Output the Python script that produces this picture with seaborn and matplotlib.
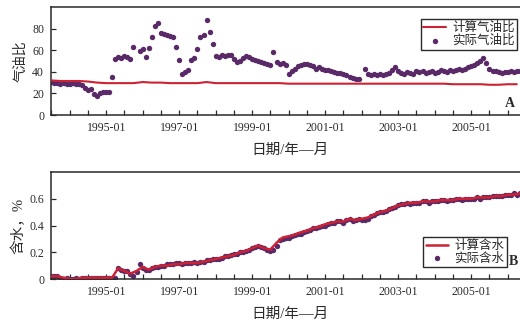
import numpy as np
import pandas as pd
import matplotlib
matplotlib.use("Agg")
import matplotlib.pyplot as plt
import matplotlib.dates as mdates
import seaborn as sns

# ---- data -------------------------------------------------------------
# monthly observations, 1993-07 .. 2006-06
months = pd.date_range("1993-07-01", periods=156, freq="MS")

gor_actual = [
    31, 30, 30, 29, 30, 29,                                   # 1993 H2
    29, 30, 29, 29, 28, 25, 23, 24, 19, 18, 20, 21,           # 1994
    21, 21, 35, 52, 54, 53, 55, 54, 52, 63, np.nan, 59,       # 1995
    61, 54, 62, 72, 82, 85, 76, 75, 74, 73, 72, 63,           # 1996
    51, 38, 40, 42, 51, 53, 61, 72, 74, 88, 77, 66,           # 1997
    55, 54, 56, 55, 56, 56, 52, 49, 50, 53, 55, 54,           # 1998
    52, 51, 50, 49, 48, 47, 46, 58, 49, 47, 48, 46,           # 1999
    38, 41, 43, 45, 46, 47, 47, 46, 45, 43, 44, 43,           # 2000
    42, 42, 41, 40, 39, 39, 38, 37, 35, 34, 33, 33,           # 2001
    np.nan, 43, 38, 37, 38, 37, 38, 37, 38, 39, 42, 44,       # 2002
    41, 39, 38, 40, 39, 38, 41, 40, 41, 39, 40, 41,           # 2003
    39, 40, 42, 41, 40, 42, 41, 42, 43, 42, 43, 44,           # 2004
    45, 46, 48, 50, 53, 48, 43, 41, 41, 40, 39, 40,           # 2005
    40, 41, 40, 41, 41, 40,                                   # 2006 H1
]

# model gas-oil ratio, quarterly
quarters = pd.date_range("1993-07-01", periods=52, freq="3MS")
gor_calc = [
    32, 31.5, 31.5, 31.5, 31, 30,
    29.5, 29.5, 29.5, 29.5, 30.5, 30, 30, 29.5, 29.5, 29.5, 29.5, 30.5,
    29.5, 29.5, 29.5, 29.5, 29.5, 29.5, 29.5, 29.5, 29, 29, 29, 29,
    29, 29, 29, 29, 29, 29, 29, 29, 29, 29, 29, 29,
    29, 29, 28.5, 28.5, 28.5, 28.5, 28, 28, 28.5, 28.5,
]

wc_actual = [
    0.02, 0.02, 0.02, 0.01, 0.00, 0.01,
    0.00, 0.00, 0.01, 0.00, 0.01, 0.01, 0.01, 0.01, 0.01, 0.01, 0.01, 0.01,
    0.01, 0.01, 0.01, 0.01, 0.08, 0.07, 0.06, 0.06, 0.04, 0.02, 0.05, 0.11,
    0.08, 0.07, 0.07, 0.08, 0.09, 0.09, 0.10, 0.10, 0.11, 0.11, 0.11, 0.12,
    0.12, 0.11, 0.12, 0.12, 0.12, 0.13, 0.12, 0.13, 0.13, 0.14, 0.14, 0.15,
    0.15, 0.15, 0.16, 0.17, 0.17, 0.18, 0.19, 0.19, 0.20, 0.20, 0.21, 0.22,
    0.23, 0.24, 0.25, 0.24, 0.23, 0.22, 0.21, 0.22, 0.25, 0.29, 0.30, 0.31,
    0.31, 0.32, 0.33, 0.34, 0.34, 0.35, 0.36, 0.37, 0.38, 0.38, 0.39, 0.40,
    0.40, 0.41, 0.42, 0.42, 0.43, 0.43, 0.42, 0.44, 0.45, 0.43, 0.44, 0.45,
    0.44, 0.44, 0.45, 0.47, 0.48, 0.49, 0.50, 0.50, 0.51, 0.52, 0.53, 0.54,
    0.55, 0.56, 0.56, 0.57, 0.56, 0.57, 0.57, 0.57, 0.58, 0.58, 0.57, 0.58,
    0.58, 0.58, 0.59, 0.59, 0.58, 0.59, 0.59, 0.60, 0.60, 0.59, 0.60, 0.60,
    0.60, 0.60, 0.61, 0.60, 0.61, 0.61, 0.61, 0.62, 0.62, 0.62, 0.62, 0.63,
    0.63, 0.63, 0.64, 0.63, 0.64, 0.64,
]

# model water cut, bi-monthly
bimonths = pd.date_range("1993-07-01", periods=78, freq="2MS")
wc_calc = [
    0.02, 0.02, 0.01, 0.00, 0.00, 0.01, 0.01, 0.01, 0.01, 0.01,
    0.01, 0.08, 0.06, 0.04, 0.06, 0.09, 0.07, 0.09, 0.10, 0.10,
    0.11, 0.11, 0.12, 0.12, 0.12, 0.13, 0.14, 0.15, 0.16, 0.17,
    0.18, 0.20, 0.21, 0.23, 0.25, 0.23, 0.22, 0.27, 0.31, 0.32,
    0.33, 0.35, 0.36, 0.38, 0.39, 0.41, 0.42, 0.43, 0.43, 0.45,
    0.44, 0.45, 0.46, 0.48, 0.50, 0.51, 0.53, 0.55, 0.56, 0.57,
    0.57, 0.58, 0.58, 0.58, 0.59, 0.59, 0.59, 0.60, 0.60, 0.60,
    0.61, 0.61, 0.61, 0.62, 0.62, 0.63, 0.63, 0.64,
]

tick_dates = pd.to_datetime(["1995-01-01", "1997-01-01", "1999-01-01",
                             "2001-01-01", "2003-01-01", "2005-01-01"])
tick_labels = ["1995-01", "1997-01", "1999-01", "2001-01", "2003-01", "2005-01"]

gor_obs = pd.DataFrame({"date": months, "value": gor_actual})
gor_mod = pd.DataFrame({"date": quarters, "value": gor_calc})
wc_obs = pd.DataFrame({"date": months, "value": wc_actual})
wc_mod = pd.DataFrame({"date": bimonths, "value": wc_calc})

# ---- style ------------------------------------------------------------
sns.set_theme(style="ticks")
plt.rcParams["font.family"] = ["Liberation Serif", "Noto Sans CJK SC"]
plt.rcParams["axes.unicode_minus"] = False

RED = "#cc2233"
PURPLE = "#5a2a68"
INK = "#2a2a2a"

fig = plt.figure(figsize=(5.2, 3.27), dpi=100)
W, H = 520, 327
x0, x1 = 51, 529
ax_top = fig.add_axes([x0 / W, 1 - 115 / H, (x1 - x0) / W, 108 / H])
ax_bot = fig.add_axes([x0 / W, 1 - 279 / H, (x1 - x0) / W, 107 / H])

xmin = pd.Timestamp("1993-06-28")
xmax = pd.Timestamp("2006-08-01")


def style_axis(ax):
    ax.set_xlim(xmin, xmax)
    ax.set_xticks(tick_dates, tick_labels)
    ax.xaxis.set_minor_locator(mdates.MonthLocator(bymonth=(1, 7)))
    ax.tick_params(axis="both", which="both", direction="in", length=3.5,
                   width=0.9, color=INK, labelsize=8.5, labelcolor=INK, pad=5)
    for s in ax.spines.values():
        s.set_color(INK)
        s.set_linewidth(1.1)
    ax.set_xlabel("日期/年—月", fontsize=10.5, color=INK, labelpad=7)


# ---- A: gas-oil ratio ---------------------------------------------------
sns.scatterplot(data=gor_obs, x="date", y="value", ax=ax_top, color=PURPLE,
                s=15, linewidth=0, label="实际气油比", zorder=2)
sns.lineplot(data=gor_mod, x="date", y="value", ax=ax_top, color=RED,
             linewidth=1.5, label="计算气油比", zorder=3)
ax_top.set_ylim(0, 100)
ax_top.set_yticks([0, 20, 40, 60, 80])
ax_top.set_ylabel("气油比", fontsize=10, color=INK, labelpad=3)
style_axis(ax_top)
h, l = ax_top.get_legend_handles_labels()
ax_top.legend(h[::-1], l[::-1], loc="upper right", bbox_to_anchor=(0.975, 0.885),
              fontsize=9, frameon=True, fancybox=False, edgecolor=INK,
              framealpha=1, borderpad=0.2, labelspacing=0.05, handlelength=1.8,
              handletextpad=0.5, borderaxespad=0)
ax_top.text(0.96, 0.11, "A", transform=ax_top.transAxes, fontsize=10,
            fontweight="bold", color=INK, ha="center", va="center")

# ---- B: water cut -------------------------------------------------------
sns.scatterplot(data=wc_obs, x="date", y="value", ax=ax_bot, color=PURPLE,
                s=15, linewidth=0, label="实际含水", zorder=2)
sns.lineplot(data=wc_mod, x="date", y="value", ax=ax_bot, color=RED,
             linewidth=1.8, label="计算含水", zorder=3)
ax_bot.set_ylim(0, 0.8)
ax_bot.set_yticks([0, 0.2, 0.4, 0.6], ["0", "0.2", "0.4", "0.6"])
ax_bot.set_ylabel("含水，%", fontsize=10.5, color=INK, labelpad=3)
style_axis(ax_bot)
h, l = ax_bot.get_legend_handles_labels()
ax_bot.legend(h[::-1], l[::-1], loc="lower right", bbox_to_anchor=(0.954, 0.11),
              fontsize=9, frameon=True, fancybox=False, edgecolor=INK,
              framealpha=1, borderpad=0.2, labelspacing=0.05, handlelength=1.8,
              handletextpad=0.5, borderaxespad=0)
ax_bot.text(0.967, 0.16, "B", transform=ax_bot.transAxes, fontsize=10,
            fontweight="bold", color=INK, ha="center", va="center")

fig.savefig("out.png", dpi=100)
